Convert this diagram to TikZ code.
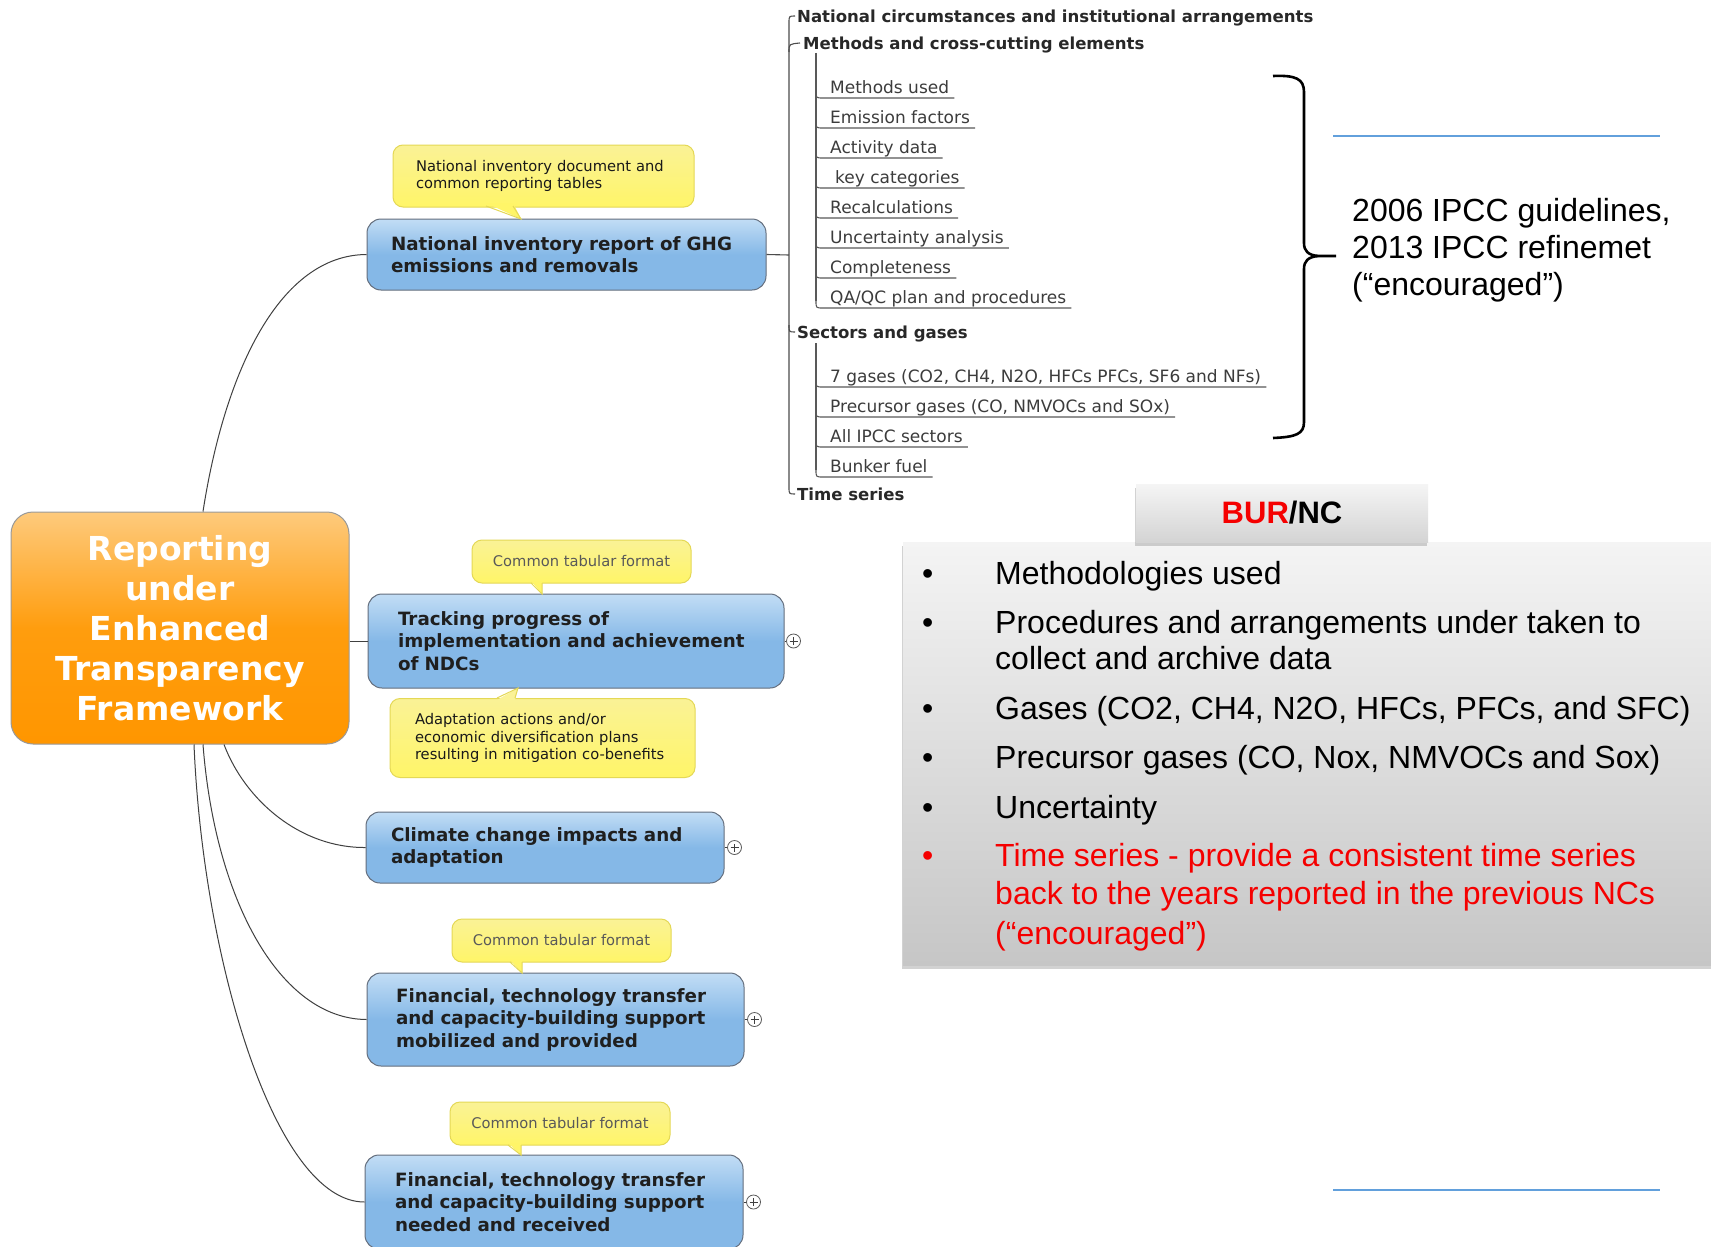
\documentclass[tikz,border=0pt]{standalone}
\usepackage{fontspec}
\setmainfont{DejaVu Sans}
\newfontfamily\arialfont{Liberation Sans}
\usetikzlibrary{calc,shadows}

\definecolor{bluetop}{RGB}{194,221,245}
\definecolor{bluebot}{RGB}{133,184,231}
\definecolor{blueedge}{RGB}{100,110,125}
\definecolor{orangetop}{RGB}{254,202,124}
\definecolor{orangemid}{RGB}{255,157,14}
\definecolor{orangebot}{RGB}{255,150,0}
\definecolor{notetop}{RGB}{250,242,150}
\definecolor{notebot}{RGB}{255,245,104}
\definecolor{noteedge}{RGB}{228,216,86}
\definecolor{treeink}{RGB}{40,40,40}
\definecolor{leafink}{RGB}{60,60,60}
\definecolor{ruleblue}{RGB}{98,160,220}
\definecolor{panelred}{RGB}{245,0,0}
\definecolor{paneltop}{RGB}{244,244,244}
\definecolor{panelbot}{RGB}{198,198,198}

\tikzset{
  root/.style={draw=black!40, line width=1pt, rounded corners=22pt,
    top color=orangetop, bottom color=orangebot, middle color=orangemid,
    text=white, align=center, text width=300pt, minimum width=338pt,
    minimum height=232pt, inner sep=0pt,
    font=\bfseries\fontsize{33}{40}\selectfont},
  topic/.style={draw=blueedge, line width=1pt, rounded corners=14pt,
    top color=bluetop, bottom color=bluebot, middle color=bluebot,
    text=black!88, align=left, inner ysep=0pt,
    font=\bfseries\fontsize{18.3}{22.5}\selectfont},
  note/.style={draw=noteedge, line width=1pt, rounded corners=10pt,
    top color=notetop, bottom color=notebot, text=black!90,
    inner ysep=0pt, font=\fontsize{14.7}{17.5}\selectfont},
  tabnote/.style={note, text=black!65, align=center, minimum width=219pt,
    minimum height=43pt, inner xsep=0pt},
  ptrfill/.style={fill=notebot},
  ptredge/.style={draw=noteedge, line width=1pt},
  link/.style={draw=black!75, line width=1pt},
  plusbtn/.style={circle, draw=black!65, fill=white, line width=.8pt,
    minimum size=14pt, inner sep=0pt,
    path picture={\draw[black!75, line width=.8pt]
      ([xshift=-4pt]path picture bounding box.center) --
      ([xshift=4pt]path picture bounding box.center)
      ([yshift=-4pt]path picture bounding box.center) --
      ([yshift=4pt]path picture bounding box.center);}},
  headlbl/.style={anchor=west, inner sep=0pt, text=treeink,
    text height=15pt, text depth=2pt,
    font=\bfseries\fontsize{16.55}{19}\selectfont},
  leaf/.style={anchor=west, inner sep=0pt, text=leafink,
    text height=15pt, text depth=2pt,
    font=\fontsize{17}{19}\selectfont},
  treelink/.style={draw=black!70, line width=1.1pt},
  leafline/.style={draw=black!65, line width=1.1pt},
  bracestroke/.style={draw=black, line width=2.6pt},
  bulletline/.style={anchor=base west, inner sep=0pt,
    font=\arialfont\fontsize{32}{37}\selectfont},
  panelbox/.style={top color=paneltop, bottom color=panelbot,
    drop shadow={shadow xshift=-1pt, shadow yshift=-4pt, opacity=.35}},
}

\begin{document}
\begin{tikzpicture}[x=1pt,y=-1pt]
\useasboundingbox (0,0) rectangle (1711,1247);
\fill[white] (0,0) rectangle (1711,1247);

% ---------- mind map: root and main topics ----------
\node[root] (etf) at (180,628) {Reporting\\under\\Enhanced\\Transparency\\Framework};

\node[topic, minimum height=71pt, inner xsep=24pt, text width=351pt] (n1) at (566.5,254.5)
  {National inventory report of GHG\\emissions and removals};
\node[topic, minimum height=94pt, inner xsep=30pt, text width=356pt] (n2) at (576,641)
  {Tracking progress of\\implementation and achievement\\of NDCs};
\node[topic, minimum height=71pt, inner xsep=25pt, text width=308pt] (n3) at (545,847.5)
  {Climate change impacts and\\adaptation};
\node[topic, minimum height=93pt, inner xsep=29pt, text width=319pt] (n4) at (555.5,1019.5)
  {Financial, technology transfer\\and capacity-building support\\mobilized and provided};
\node[topic, minimum height=94pt, inner xsep=30pt, text width=318pt] (n5) at (554,1202)
  {Financial, technology transfer\\and capacity-building support\\needed and received};

% curved branches from the root
\draw[link] ($(etf.north)+(23,0)$) .. controls (225,370) and (280,255) .. (n1.west);
\draw[link] (etf.east |- n2.west) -- (n2.west);
\draw[link] ($(etf.south)+(44,0)$) .. controls (245,800) and (300,848) .. (n3.west);
\draw[link] ($(etf.south)+(23,0)$) .. controls (215,900) and (280,1019) .. (n4.west);
\draw[link] ($(etf.south)+(14,0)$) .. controls (203,960) and (275,1202) .. (n5.west);

% collapsed-branch buttons
\node[plusbtn] (b2) at ($(n2.east)+(9,0)$) {};
\node[plusbtn] (b3) at ($(n3.east)+(10,0)$) {};
\node[plusbtn] (b4) at ($(n4.east)+(10,0)$) {};
\node[plusbtn] (b5) at ($(n5.east)+(10,0)$) {};
\draw[link, line width=.8pt] (n2.east) -- (b2);
\draw[link, line width=.8pt] (n3.east) -- (b3);
\draw[link, line width=.8pt] (n4.east) -- (b4);
\draw[link, line width=.8pt] (n5.east) -- (b5);

% ---------- callout notes ----------
\node[note, align=left, minimum height=62pt, inner xsep=23pt, text width=255pt] (c1) at (543.5,176)
  {National inventory document and\\common reporting tables};
\fill[ptrfill] (486,203) -- (521,219) -- (513,203) -- cycle;
\draw[ptredge] (486,206) -- (521,219) -- (513,206);

\node[tabnote] (c2) at (581.5,561.5) {Common tabular format};
\fill[ptrfill] (531,581) -- (542,594) -- (542,581) -- cycle;
\draw[ptredge] (531,583) -- (542,594) -- (542,583);

\node[note, align=left, minimum height=79pt, inner xsep=25pt, text width=255pt] (c3) at (542.5,738)
  {Adaptation actions and/or\\economic diversification plans\\resulting in mitigation co-benefits};
\fill[notetop] (497,700) -- (518,688) -- (515,700) -- cycle;
\draw[ptredge] (497,698) -- (518,688) -- (515,698);

\node[tabnote] (c4) at (561.5,940.5) {Common tabular format};
\fill[ptrfill] (510,960) -- (522,973) -- (522,960) -- cycle;
\draw[ptredge] (510,962) -- (522,973) -- (522,962);

\node[tabnote, minimum width=220pt] (c5) at (560,1123.5) {Common tabular format};
\fill[ptrfill] (508,1143) -- (521,1155) -- (521,1143) -- cycle;
\draw[ptredge] (508,1145) -- (521,1155) -- (521,1145);

% ---------- inventory report outline ----------
\coordinate (trunk) at (789,255);
\draw[treelink] (n1.east) -- (trunk);

\node[headlbl] (nca) at (797,16) {National circumstances and institutional arrangements};
\node[headlbl] (mce) at (803,43) {Methods and cross-cutting elements};
\node[headlbl] (sag) at (797,332) {Sectors and gases};
\node[headlbl] (tms) at (797,494) {Time series};

\draw[treelink] ($(nca.west)+(-2,0)$) .. controls (789,16) .. (789,23) -- (789,487)
  .. controls (789,494) .. ($(tms.west)+(-2,0)$);
\draw[treelink] (789,52) .. controls (789,44) .. ($(mce.west)+(-3,0)$);
\draw[treelink] (789,325) .. controls (789,332) .. ($(sag.west)+(-2,0)$);

% methods and cross-cutting elements
\draw[leafline] (816,53) -- (816,301);
\foreach \i/\yc/\txt in {1/87/Methods used, 2/117/Emission factors, 3/147/Activity data,
    4/177/{\hspace{5pt}key categories}, 5/207/Recalculations, 6/237/Uncertainty analysis,
    7/267/Completeness, 8/297/{QA/QC plan and procedures}} {
  \node[leaf] (m\i) at (830,\yc) {\txt};
  \draw[leafline] (816,\yc+4) .. controls (816,\yc+11) .. (823,\yc+11) -- ($(m\i.east)+(5,11)$);
}

% sectors and gases
\draw[leafline] (816,343) -- (816,470);
\foreach \i/\yc/\txt in {1/376/{7 gases (CO2, CH4, N2O, HFCs PFCs, SF6 and NFs)},
    2/406/{Precursor gases (CO, NMVOCs and SOx)}, 3/436/All IPCC sectors, 4/466/Bunker fuel} {
  \node[leaf] (s\i) at (830,\yc) {\txt};
  \draw[leafline] (816,\yc+4) .. controls (816,\yc+11) .. (823,\yc+11) -- ($(s\i.east)+(5,11)$);
}

% ---------- guidelines brace ----------
\node[anchor=west, inner sep=0pt, align=left, font=\arialfont\fontsize{32}{37}\selectfont] (ipcc) at (1352,250)
  {2006 IPCC guidelines,\\2013 IPCC refinemet\\(“encouraged”)};
\draw[bracestroke] (1273,76) .. controls (1296,75) and (1304,79) .. (1304,92) -- (1304,243)
  .. controls (1304,251) and (1308,255) .. (1318,256) -- ($(ipcc.west)+(-16,6)$);
\draw[bracestroke] (1318,256) .. controls (1308,257) and (1304,261) .. (1304,269) -- (1304,422)
  .. controls (1304,434) and (1296,437) .. (1273,438);

\draw[ruleblue, line width=2pt] (1333,136) -- (1660,136);
\draw[ruleblue, line width=2pt] (1333,1190) -- (1660,1190);

% ---------- BUR/NC panel ----------
\node[panelbox, minimum width=817pt, minimum height=423pt, inner sep=0pt] (panel) at (1311.5,753.5) {};
\node[panelbox, top color=white!96!black, bottom color=black!17, minimum width=292pt,
  minimum height=58pt, inner sep=0pt, font=\arialfont\bfseries\fontsize{31}{36}\selectfont]
  (burnc) at (1282,513) {\textcolor{panelred}{BUR}/NC};

\foreach \yc/\txt/\bul/\col in {
    573/Methodologies used/1/black,
    622/Procedures and arrangements under taken to/1/black,
    658/collect and archive data/0/black,
    708/{Gases (CO2, CH4, N2O, HFCs, PFCs, and SFC)}/1/black,
    757/{Precursor gases (CO, Nox, NMVOCs and Sox)}/1/black,
    807/Uncertainty/1/black,
    855/Time series - provide a consistent time series/1/panelred,
    893/back to the years reported in the previous NCs/0/panelred,
    933/(“encouraged”)/0/panelred} {
  \node[bulletline, text=\col] at (995,\yc+11.5) {\txt};
  \ifnum\bul=1
    \node[bulletline, text=\col] at (922,\yc+11.5) {•};
  \fi
}
\end{tikzpicture}
\end{document}
